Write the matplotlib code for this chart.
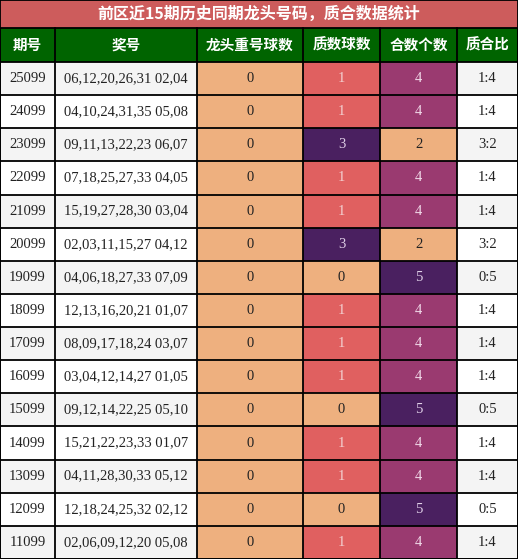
import matplotlib
matplotlib.use("Agg")
import matplotlib.pyplot as plt
from matplotlib.patches import Rectangle

title = "前区近15期历史同期龙头号码，质合数据统计"
headers = ["期号", "奖号", "龙头重号球数", "质数球数", "合数个数", "质合比"]
periods = ["25099","24099","23099","22099","21099","20099","19099","18099","17099","16099","15099","14099","13099","12099","11099"]
numbers = ["06,12,20,26,31 02,04","04,10,24,31,35 05,08","09,11,13,22,23 06,07","07,18,25,27,33 04,05",
           "15,19,27,28,30 03,04","02,03,11,15,27 04,12","04,06,18,27,33 07,09","12,13,16,20,21 01,07",
           "08,09,17,18,24 03,07","03,04,12,14,27 01,05","09,12,14,22,25 05,10","15,21,22,23,33 01,07",
           "04,11,28,30,33 05,12","12,18,24,25,32 02,12","02,06,09,12,20 05,08"]
repeat = [0]*15
primes = [1,1,3,1,1,3,0,1,1,1,0,1,1,0,1]
composites = [4,4,2,4,4,2,5,4,4,4,5,4,4,5,4]
ratio = ["1:4","1:4","3:2","1:4","1:4","3:2","0:5","1:4","1:4","1:4","0:5","1:4","1:4","0:5","1:4"]

W, H = 518, 559
fig = plt.figure(figsize=(W/100, H/100), dpi=100)
ax = fig.add_axes([0, 0, 1, 1])
ax.set_xlim(0, W); ax.set_ylim(H, 0); ax.axis("off")

cx = [0, 55, 197, 303, 380, 457, 518]
ty, hy = 28, 62
rh = (H - hy) / 15
cjk = ["Noto Sans CJK SC", "DejaVu Sans"]
serif = "Liberation Serif"

SAL, RED, PUR, MAG = "#eeb07f", "#e06060", "#4a2060", "#9a3a70"
def pcol(v):
    return {0: (SAL, "#222"), 1: (RED, "#f3d0d0"), 3: (PUR, "#e0d0e8")}[v]
def ccol(v):
    return {2: (SAL, "#222"), 4: (MAG, "#f0d8e8"), 5: (PUR, "#e0d0e8")}[v]

ax.add_patch(Rectangle((0, 0), W, ty, fc="#cd5c5c", ec="none"))
ax.text(W/2, ty/2, title, ha="center", va="center", color="white", fontsize=11.5, fontweight="bold", family=cjk)
ax.add_patch(Rectangle((0, ty), W, hy-ty, fc="#006400", ec="none"))
for i, h in enumerate(headers):
    ax.text((cx[i]+cx[i+1])/2, (ty+hy)/2, h, ha="center", va="center", color="white", fontsize=10.5, fontweight="bold", family=cjk)

for r in range(15):
    y0 = hy + r*rh
    bg = "#f4f4f4" if r % 2 == 0 else "white"
    cells = [(periods[r], bg, "#222"), (numbers[r], bg, "#222"), (str(repeat[r]), SAL, "#222"),
             (str(primes[r]),) + pcol(primes[r]), (str(composites[r]),) + ccol(composites[r]), (ratio[r], bg, "#222")]
    for i, (t, fc, tc) in enumerate(cells):
        ax.add_patch(Rectangle((cx[i], y0), cx[i+1]-cx[i], rh, fc=fc, ec="none"))
        ax.text((cx[i]+cx[i+1])/2, y0+rh/2, t, ha="center", va="center", color=tc, fontsize=10.5, family=serif)

for x in cx:
    ax.plot([x, x], [ty, H], color="black", lw=1.3)
for r in range(16):
    y = hy + r*rh
    ax.plot([0, W], [y, y], color="black", lw=1.3)
ax.plot([0, W], [ty, ty], color="black", lw=1.3)
ax.plot([0, W, W, 0, 0], [0, 0, H, H, 0], color="black", lw=1.3)

fig.savefig("out.png", dpi=100)
